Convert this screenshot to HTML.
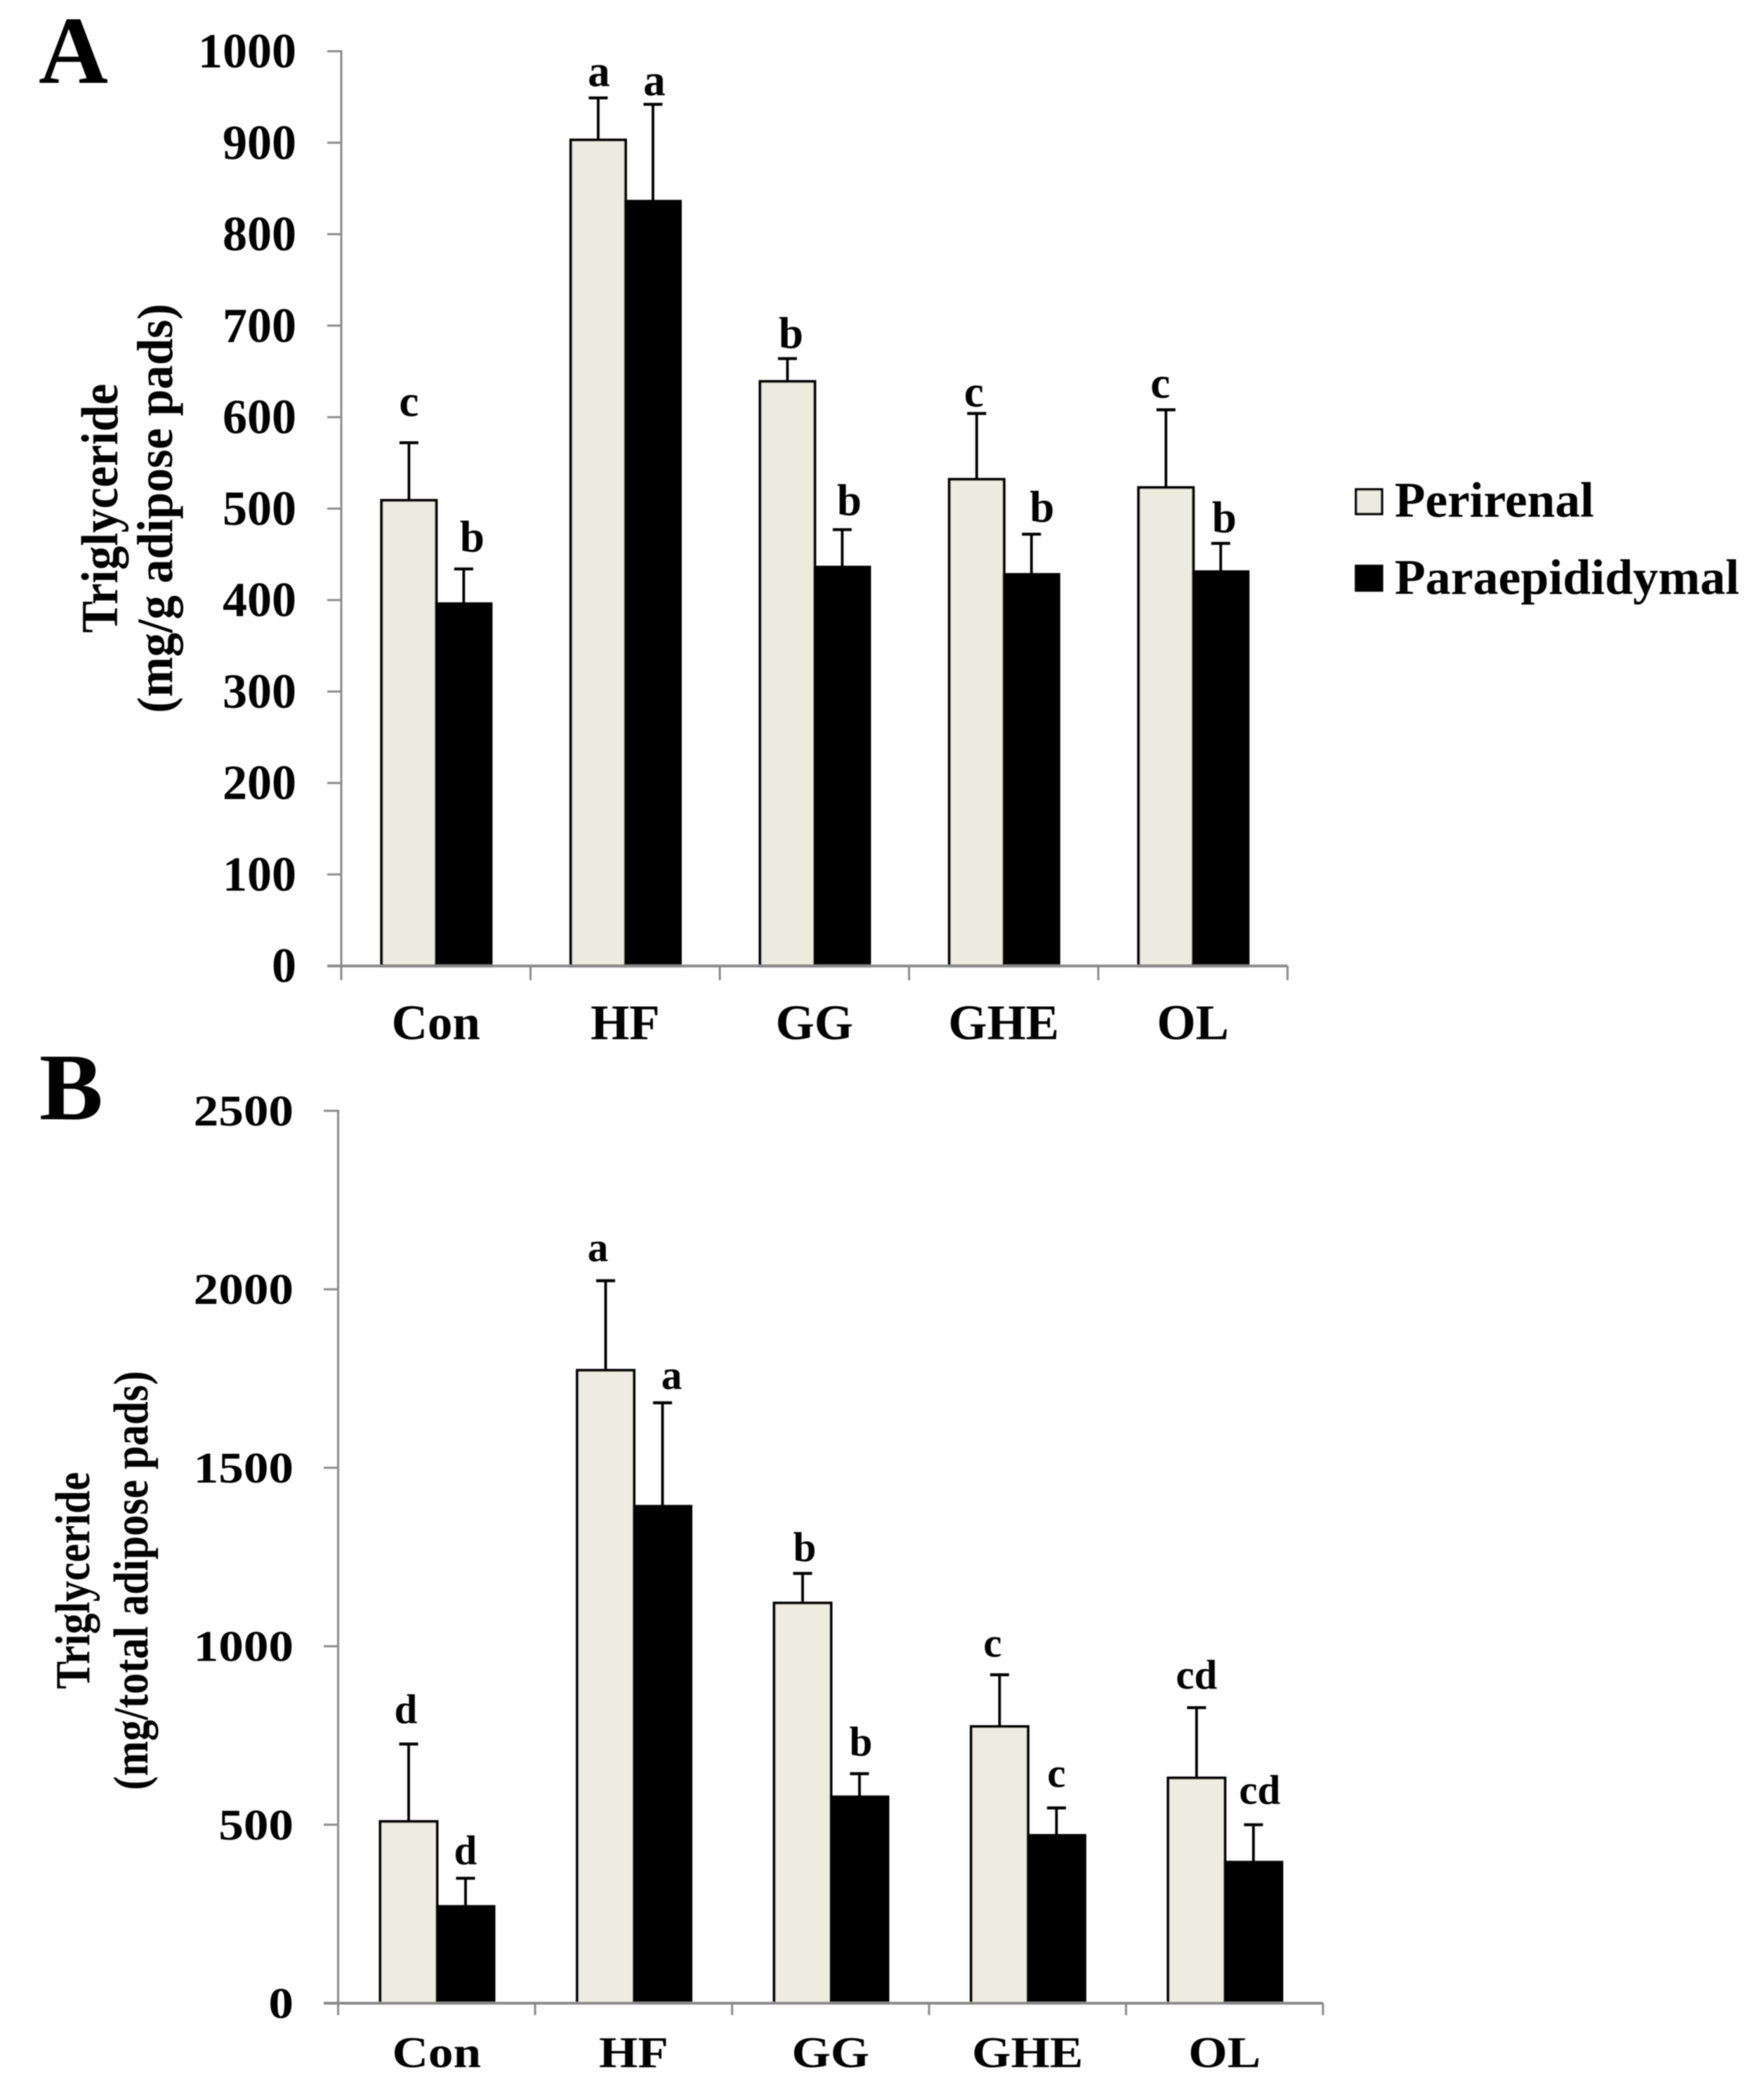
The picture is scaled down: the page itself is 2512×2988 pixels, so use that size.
<!DOCTYPE html>
<html lang="en">
<head>
<meta charset="utf-8">
<title>Triglyceride in adipose pads</title>
<style>
html,body{margin:0;padding:0;background:#fff;}
svg{display:block;}
text{font-family:"Liberation Serif",serif;font-weight:bold;fill:#000;}
</style>
</head>
<body>
<svg id="figure" xmlns="http://www.w3.org/2000/svg" width="2512" height="2988" viewBox="0 0 2512 2988">
  <defs>
    <filter id="soft" filterUnits="userSpaceOnUse" x="0" y="0" width="2512" height="2988">
      <feGaussianBlur stdDeviation="0.8"/>
    </filter>
  </defs>
  <rect x="0" y="0" width="2512" height="2988" fill="#ffffff"/>
  <g id="root" filter="url(#soft)">
    <text x="55" y="118" font-size="137">A</text>
    <text x="56" y="1594" font-size="136">B</text>

    <text transform="translate(167,724) rotate(-90)" text-anchor="middle" font-size="74" textLength="355" lengthAdjust="spacingAndGlyphs">Triglyceride</text>
    <text transform="translate(245,724) rotate(-90)" text-anchor="middle" font-size="72" textLength="583" lengthAdjust="spacingAndGlyphs">(mg/g adipose pads)</text>

    <text transform="translate(127,2251) rotate(-90)" text-anchor="middle" font-size="70" textLength="309" lengthAdjust="spacingAndGlyphs">Triglyceride</text>
    <text transform="translate(210,2251) rotate(-90)" text-anchor="middle" font-size="70" textLength="597" lengthAdjust="spacingAndGlyphs">(mg/total adipose pads)</text>

    <g>
      <g>
        <rect x="1931" y="697" width="37" height="35" fill="#ecebdf" stroke="#000" stroke-width="3.5"/>
        <text x="1986" y="736" font-size="71" textLength="284" lengthAdjust="spacingAndGlyphs">Perirenal</text>
      </g>
      <g>
        <rect x="1931" y="806" width="37" height="35" fill="#000" stroke="#000" stroke-width="3.5"/>
        <text x="1986" y="846" font-size="71" textLength="491" lengthAdjust="spacingAndGlyphs">Paraepididymal</text>
      </g>
    </g>
  </g>
</svg>
<script>
const categories = ["Con", "HF", "GG", "GHE", "OL"];

const ticksA = [0, 100, 200, 300, 400, 500, 600, 700, 800, 900, 1000];
const perirenalA = [509, 903, 639, 532, 523];
const perirenalErrA = [63, 46, 25, 72, 85];
const paraepididymalA = [396, 836, 436, 428, 431];
const paraepididymalErrA = [38, 106, 41, 44, 31];
const perirenalLettersA = ["c", "a", "b", "c", "c"];
const paraepididymalLettersA = ["b", "a", "b", "b", "b"];

const ticksB = [0, 500, 1000, 1500, 2000, 2500];
const perirenalB = [509, 1773, 1121, 775, 631];
const perirenalErrB = [217, 251, 83, 145, 197];
const paraepididymalB = [271, 1392, 578, 470, 395];
const paraepididymalErrB = [79, 290, 65, 77, 105];
const perirenalLettersB = ["d", "a", "b", "c", "cd"];
const paraepididymalLettersB = ["d", "a", "b", "c", "cd"];

const NS = "http://www.w3.org/2000/svg";
const root = document.getElementById("root");

function line(parent, x1, y1, x2, y2, color, width) {
  const el = document.createElementNS(NS, "line");
  el.setAttribute("x1", x1);
  el.setAttribute("y1", y1);
  el.setAttribute("x2", x2);
  el.setAttribute("y2", y2);
  el.setAttribute("stroke", color);
  el.setAttribute("stroke-width", width);
  parent.appendChild(el);
  return el;
}

function label(parent, x, y, str, size, anchor, sx) {
  const el = document.createElementNS(NS, "text");
  el.setAttribute("transform", "translate(" + x + "," + y + ") scale(" + sx + ",1)");
  el.setAttribute("font-size", size);
  el.setAttribute("text-anchor", anchor);
  el.textContent = str;
  parent.appendChild(el);
  return el;
}

function drawPanel(p) {
  const yOf = function (v) { return p.y0 - (v / p.max) * (p.y0 - p.yTop); };
  const bandCenter = function (i) { return p.x0 + p.band * (i + 0.5) + p.shift; };

  const g = document.createElementNS(NS, "g");
  
  
  root.appendChild(g);

  p.series.forEach(function (s, si) {
    s.values.forEach(function (v, i) {
      const cx = bandCenter(i) + (si === 0 ? -p.barW / 2 : p.barW / 2);
      const top = yOf(v + s.errs[i]);

      const stem = line(g, cx, yOf(v), cx, top, "#000", 3.8);
      
      

      const cap = line(g, cx - p.cap / 2, top, cx + p.cap / 2, top, "#000", 4.2);
      
      

      const tx = cx + s.nudge[i];
      const letter = label(g, tx, top - s.lift[i], s.letters[i], p.letterSize, "middle", 1);
      
      
    });
  });

  p.series.forEach(function (s, si) {
    s.values.forEach(function (v, i) {
      const left = bandCenter(i) + (si === 0 ? -p.barW : 0);
      const bar = document.createElementNS(NS, "rect");
      bar.setAttribute("x", left);
      bar.setAttribute("y", yOf(v));
      bar.setAttribute("width", p.barW);
      bar.setAttribute("height", Math.max(0, p.y0 - yOf(v)));
      bar.setAttribute("fill", s.color);
      bar.setAttribute("stroke", "#000");
      bar.setAttribute("stroke-width", 4);
      
      
      g.appendChild(bar);
    });
  });

  const yAxis = line(g, p.x0, p.yTop - 1.5, p.x0, p.tickBottom, "#8a8a8a", 3);
  
  

  p.ticks.forEach(function (t) {
    const mark = line(g, p.tickLeft, yOf(t), p.x0, yOf(t), "#8a8a8a", t === 0 ? 4 : 3);
    
    

    const tickText = label(g, p.labelRight, yOf(t) + p.labelDrop, String(t), p.tickSize, "end", p.textSx);
    
    
  });

  const xAxis = line(g, p.x0, p.y0, p.x0 + p.band * categories.length, p.y0, "#8a8a8a", 4);
  
  

  categories.forEach(function (c, i) {
    const right = p.x0 + p.band * (i + 1);
    const mark = line(g, right, p.y0, right, p.tickBottom, "#8a8a8a", 3);
    
    

    const catText = label(g, p.x0 + p.band * (i + 0.5), p.catBaseline, c, p.catSize, "middle", p.textSx);
    
    
  });
}

drawPanel({
  id: "panel-a", x0: 486, band: 269.5, shift: 0.6, y0: 1375.7, yTop: 73, max: 1000,
  barW: 78, cap: 27, tickLeft: 466, tickBottom: 1396,
  labelRight: 422, labelDrop: 23, tickSize: 70, textSx: 1,
  catBaseline: 1480, catSize: 71, letterSize: 63, ticks: ticksA,
  series: [
    { key: "perirenal", color: "#ecebdf", values: perirenalA, errs: perirenalErrA, letters: perirenalLettersA,
      lift: [38, 17, 15, 10, 17], nudge: [0, 1, 5, -4, -8] },
    { key: "paraepididymal", color: "#000", values: paraepididymalA, errs: paraepididymalErrA, letters: paraepididymalLettersA,
      lift: [25, 13, 21, 18, 16], nudge: [12, 2, 10, 15, 5] }
  ]
});

drawPanel({
  id: "panel-b", x0: 481.5, band: 280.5, shift: 0.7, y0: 2853, yTop: 1582, max: 2500,
  barW: 81, cap: 27, tickLeft: 461, tickBottom: 2870,
  labelRight: 418, labelDrop: 21, tickSize: 63, textSx: 1.13,
  catBaseline: 2944, catSize: 63, letterSize: 59, ticks: ticksB,
  series: [
    { key: "perirenal", color: "#eeece0", values: perirenalB, errs: perirenalErrB, letters: perirenalLettersB,
      lift: [30, 28, 18, 26, 27], nudge: [-4, -11, 3, -10, 0] },
    { key: "paraepididymal", color: "#000", values: paraepididymalB, errs: paraepididymalErrB, letters: paraepididymalLettersB,
      lift: [20, 20, 26, 30, 30], nudge: [0, 13, 2, 0, 9] }
  ]
});
</script>
</body>
</html>
